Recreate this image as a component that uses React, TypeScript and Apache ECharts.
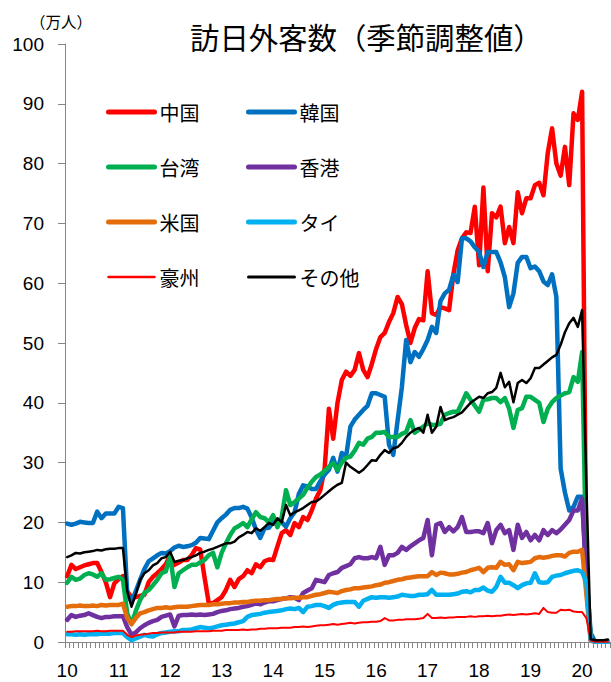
import React, { useEffect, useRef } from "react";
import * as echarts from "echarts";

const yearLabels = ["10", "11", "12", "13", "14", "15", "16", "17", "18", "19", "20"];
const monthsShown = 127; // Jan 2010 .. Jul 2020

const china = [
  11.0, 12.9, 12.2, 12.5, 12.8, 13.0, 13.2, 13.2, 11.7, 10.0, 7.5, 9.8,
  10.5, 11.0, 8.5, 7.4, 7.5, 7.7, 7.9, 10.0, 10.9, 11.5, 12.2, 13.0,
  14.5, 12.9, 13.3, 13.7, 13.7, 14.5, 15.7, 15.5, 10.9, 6.5, 6.5, 7.0,
  7.5, 8.7, 10.4, 9.2, 10.5, 11.0, 12.0, 11.5, 13.0, 12.5, 13.5, 13.8,
  13.7, 16.0, 18.2, 18.7, 17.9, 19.9, 19.2, 20.9, 20.4, 22.0, 24.0, 25.4,
  29.0, 39.0, 34.0, 40.0, 43.8, 45.2, 44.5, 45.5, 48.3, 45.5, 44.3, 46.5,
  49.0, 51.0, 51.7, 53.5, 55.0, 57.7, 56.5, 53.0, 50.0, 52.5, 54.0, 53.8,
  62.0, 55.0, 54.7, 56.0, 55.8, 55.5, 61.5, 65.5, 67.5, 68.5, 68.4, 72.8,
  63.0, 76.0, 62.0, 71.7, 71.0, 72.8, 66.7, 69.4, 66.7, 75.2, 71.7, 74.2,
  74.2, 76.4, 76.8, 74.7, 81.8, 85.9, 80.0, 78.0, 82.8, 76.4, 88.4, 87.3,
  92.0, 9.0, 1.0, 0.1, 0.1, 0.1, 0.1,
];

const korea = [
  19.8, 19.6, 19.8, 20.1, 20.0, 19.9, 19.9, 21.8, 20.7, 21.5, 21.5, 21.5,
  22.6, 22.4, 8.0, 6.7, 8.5, 10.4, 12.2, 13.5, 14.0, 14.5, 14.9, 14.8,
  15.2, 15.8, 16.1, 15.9, 16.0, 16.2, 16.6, 17.4, 17.3, 17.2, 18.6, 20.0,
  20.7, 21.3, 22.1, 22.4, 22.4, 22.6, 22.3, 20.8, 18.8, 17.4, 19.0, 19.1,
  20.0, 20.3, 20.0, 19.3, 20.7, 21.7, 24.8, 26.2, 26.0, 25.6, 25.6, 26.9,
  28.0, 28.8, 30.8, 28.5, 31.6, 31.0, 36.0, 37.2, 38.0, 38.8, 39.5, 41.6,
  41.6, 41.3, 41.0, 33.0, 31.3, 37.0, 42.6, 50.5, 46.8, 48.5, 47.7, 49.0,
  50.5, 52.7, 51.7, 57.0, 58.3, 58.9, 61.4, 60.2, 67.5, 67.5, 67.0, 66.0,
  65.2, 62.7, 65.2, 65.2, 65.2, 63.5, 61.0, 56.0, 58.3, 63.4, 64.4, 64.4,
  62.5, 62.8, 62.0, 60.3, 59.7, 61.5, 57.7, 29.0, 25.0, 22.0, 22.6, 24.3,
  24.3, 11.0, 1.5, 0.1, 0.1, 0.1, 0.1,
];

const taiwan = [
  9.9, 10.9, 10.4, 10.6, 11.2, 11.5, 11.3, 10.9, 11.5, 10.4, 10.5, 10.7,
  10.9, 10.4, 4.8, 3.0, 5.2, 7.0, 8.2, 8.7, 9.5, 10.4, 11.5, 11.8,
  14.5, 9.2, 11.5, 12.0, 12.5, 12.9, 12.9, 13.3, 13.7, 14.5, 14.9, 12.5,
  14.9, 16.5, 17.9, 19.0, 19.4, 19.9, 19.2, 20.5, 21.7, 20.9, 20.7, 20.0,
  21.2, 19.2, 20.9, 25.4, 22.9, 23.4, 24.0, 24.6, 25.8, 26.8, 27.6, 28.0,
  28.6, 29.3, 29.9, 28.8, 30.0, 30.8, 31.0, 32.0, 33.3, 33.0, 34.0, 34.3,
  35.0, 35.0, 35.1, 34.3, 34.3, 34.3, 34.8, 35.1, 37.1, 35.0, 35.5, 36.0,
  36.6, 36.3, 36.3, 36.5, 38.0, 38.3, 38.5, 38.5, 40.0, 41.6, 40.5, 39.5,
  38.5, 40.5, 40.6, 40.8, 40.8, 40.1, 40.8, 39.0, 35.8, 38.8, 39.1, 41.0,
  41.0, 40.5, 40.0, 36.8, 39.0, 40.1, 40.8, 41.2, 41.6, 41.8, 44.3, 43.5,
  48.5, 12.0, 0.4, 0.05, 0.05, 0.05, 0.05,
];

const hongkong = [
  3.7, 4.5, 4.2, 4.4, 4.5, 4.8, 4.5, 4.2, 4.0, 4.2, 4.2, 4.3,
  4.3, 4.3, 2.5, 1.2, 1.6, 2.3, 2.8, 3.2, 3.5, 3.7, 4.2, 4.4,
  4.6, 2.6, 4.4, 4.5, 4.5, 4.6, 4.5, 4.6, 4.5, 4.6, 4.7, 5.0,
  5.2, 5.3, 5.5, 5.6, 5.7, 5.9, 6.0, 6.2, 6.5, 6.3, 6.6, 6.8,
  6.8, 7.0, 7.2, 7.3, 7.5, 7.4, 7.0, 8.2, 8.6, 9.0, 10.4, 10.2,
  10.0, 11.2, 11.5, 11.7, 12.4, 12.7, 13.0, 14.0, 14.2, 14.0, 14.0, 14.2,
  14.0, 15.9, 12.9, 14.5, 14.5, 14.9, 15.9, 15.4, 16.0, 16.5, 17.0, 17.4,
  20.4, 14.5, 19.6, 19.9, 18.4, 19.2, 18.5, 19.2, 20.9, 18.4, 18.4, 18.5,
  18.5, 18.2, 19.9, 16.5, 18.7, 19.6, 18.2, 18.7, 15.4, 19.6, 17.4, 18.4,
  17.0, 17.9, 17.0, 18.7, 17.9, 18.7, 18.2, 18.8, 19.6, 20.4, 22.0, 22.0,
  24.0, 10.0, 0.3, 0.05, 0.05, 0.05, 0.05,
];

const usa = [
  5.9, 6.0, 6.0, 6.1, 6.0, 6.0, 6.1, 6.0, 6.2, 6.1, 6.2, 6.2,
  6.2, 6.4, 4.0, 3.0, 4.0, 4.8, 5.0, 5.3, 5.5, 5.7, 5.7, 5.8,
  5.7, 5.8, 5.9, 5.9, 5.9, 6.0, 6.1, 6.2, 6.2, 6.2, 6.3, 6.3,
  6.4, 6.5, 6.5, 6.6, 6.6, 6.7, 6.7, 6.8, 6.9, 6.9, 7.0, 7.0,
  7.1, 7.2, 7.2, 7.3, 7.3, 7.4, 7.4, 7.5, 7.5, 7.7, 7.9, 8.0,
  8.2, 8.4, 8.3, 8.2, 8.5, 8.7, 8.8, 9.0, 9.0, 9.1, 9.2, 9.3,
  9.5, 9.6, 9.9, 10.0, 10.2, 10.4, 10.5, 10.7, 10.8, 10.9, 11.0, 11.0,
  11.0, 11.7, 11.2, 11.6, 11.5, 11.3, 11.3, 11.4, 11.6, 11.7, 12.0, 12.2,
  12.4, 11.7, 12.4, 12.5, 12.4, 13.4, 12.9, 13.0, 12.0, 13.4, 13.2, 13.3,
  13.4, 14.0, 14.2, 14.1, 14.2, 14.4, 14.5, 14.5, 14.3, 14.9, 15.1, 15.1,
  15.4, 8.0, 0.2, 0.05, 0.05, 0.05, 0.05,
];

const thailand = [
  1.3, 1.3, 1.2, 1.3, 1.2, 1.3, 1.3, 1.3, 1.4, 1.4, 1.4, 1.5,
  1.5, 1.5, 0.8, 0.3, 0.6, 0.9, 1.2, 1.0, 0.9, 1.3, 1.5, 1.6,
  1.7, 1.8, 1.8, 2.0, 2.0, 2.1, 2.3, 2.5, 2.4, 2.3, 2.4, 2.6,
  2.8, 2.9, 3.0, 3.1, 3.3, 3.5, 4.2, 4.5, 4.6, 4.7, 4.9, 5.0,
  5.1, 5.2, 5.3, 5.5, 5.6, 5.5, 5.7, 5.0, 5.9, 6.0, 6.2, 6.2,
  6.0, 5.7, 6.2, 6.5, 6.6, 6.7, 6.7, 6.7, 5.9, 6.9, 7.2, 7.5,
  7.4, 7.5, 7.5, 7.4, 7.5, 7.6, 7.9, 7.8, 7.7, 7.7, 7.9, 7.9,
  8.0, 8.7, 7.9, 7.9, 7.9, 7.9, 8.0, 8.1, 8.4, 8.5, 8.3, 8.7,
  8.7, 9.1, 8.6, 8.4, 9.2, 10.9, 9.9, 9.9, 9.5, 9.0, 9.5, 9.8,
  9.9, 11.5, 10.0, 9.9, 10.0, 10.9, 11.1, 11.2, 11.5, 11.7, 11.9, 12.0,
  11.7, 10.0, 0.3, 0.05, 0.05, 0.05, 0.05,
];

const australia = [
  1.7, 1.7, 1.8, 1.8, 1.8, 1.8, 1.8, 1.9, 1.8, 1.8, 1.9, 1.9,
  1.9, 1.9, 1.2, 0.8, 1.1, 1.2, 1.3, 1.4, 1.5, 1.5, 1.6, 1.6,
  1.6, 1.6, 1.7, 1.7, 1.7, 1.7, 1.8, 1.8, 1.8, 1.8, 1.9, 1.9,
  1.9, 2.0, 2.0, 2.0, 2.0, 2.1, 2.0, 2.1, 2.1, 2.2, 2.2, 2.3,
  2.3, 2.3, 2.4, 2.4, 2.4, 2.5, 2.5, 2.6, 2.5, 2.6, 2.7, 2.8,
  2.8, 2.9, 3.0, 2.9, 3.0, 3.1, 3.2, 3.1, 3.2, 3.3, 3.3, 3.4,
  3.4, 3.5, 4.0, 3.6, 3.6, 3.7, 3.7, 3.8, 3.8, 3.8, 3.9, 4.0,
  4.7, 4.0, 4.0, 4.1, 4.0, 4.1, 4.1, 4.2, 4.2, 4.2, 4.3, 4.2,
  4.3, 4.3, 4.4, 4.3, 4.4, 4.4, 4.5, 4.6, 4.5, 4.6, 4.7, 4.6,
  4.7, 4.8, 4.7, 5.7, 5.0, 4.9, 4.9, 5.4, 5.3, 5.4, 5.1, 5.0,
  5.0, 4.0, 0.3, 0.05, 0.05, 0.05, 0.05,
];

const others = [
  14.2, 14.5, 14.9, 14.8, 15.0, 15.1, 15.2, 15.4, 15.3, 15.5, 15.6, 15.6,
  15.7, 15.7, 8.5, 5.9, 8.0, 10.4, 11.5, 12.0, 12.8, 13.2, 14.0, 14.2,
  15.1, 13.4, 13.6, 13.7, 14.0, 14.2, 14.5, 14.9, 15.1, 15.4, 15.6, 15.9,
  16.2, 16.5, 16.5, 16.8, 17.5, 17.9, 18.4, 18.2, 19.0, 18.6, 19.2, 19.9,
  19.6, 20.7, 20.0, 22.9, 21.2, 21.7, 22.0, 22.4, 22.9, 23.4, 23.5, 24.0,
  24.6, 25.2, 25.8, 26.3, 26.6, 30.0, 29.3, 28.8, 28.3, 28.8, 29.6, 30.4,
  30.3, 31.3, 32.1, 31.6, 32.4, 32.6, 33.3, 34.3, 35.0, 35.5, 35.8, 35.0,
  38.0, 35.0, 36.0, 39.3, 37.1, 37.4, 37.6, 38.0, 38.4, 39.2, 40.0, 40.5,
  41.0, 40.8, 41.6, 41.8, 42.5, 45.0, 42.6, 43.5, 40.1, 43.3, 43.8, 43.3,
  44.1, 45.8, 45.8, 46.4, 47.0, 47.6, 48.0, 49.7, 51.8, 53.3, 54.2, 52.7,
  55.5, 26.0, 0.5, 0.3, 0.3, 0.3, 0.4,
];

const seriesDefs = [
  { name: "中国", data: china, color: "#FF0000", width: 4.5, legendWidth: 5 },
  { name: "韓国", data: korea, color: "#0070C0", width: 4.5, legendWidth: 5 },
  { name: "台湾", data: taiwan, color: "#00B050", width: 4.5, legendWidth: 5 },
  { name: "香港", data: hongkong, color: "#7030A0", width: 4.5, legendWidth: 5 },
  { name: "米国", data: usa, color: "#E46C0A", width: 4.5, legendWidth: 5 },
  { name: "タイ", data: thailand, color: "#00B0F0", width: 4.5, legendWidth: 5 },
  { name: "豪州", data: australia, color: "#FF0000", width: 2, legendWidth: 2.5 },
  { name: "その他", data: others, color: "#000000", width: 2.5, legendWidth: 3 },
];

const leftColumn = ["中国", "台湾", "米国", "豪州"];
const rightColumn = ["韓国", "香港", "タイ", "その他"];

const JP = "'Noto Sans CJK JP', 'Noto Sans', sans-serif";
const NUM = "'Liberation Sans', Arial, sans-serif";

export default function App() {
  const ref = useRef<HTMLDivElement>(null);

  useEffect(() => {
    document.body.style.margin = "0";
    if (!ref.current) return;
    const chart = echarts.init(ref.current, undefined, { renderer: "svg" });

    const categories: string[] = [];
    yearLabels.forEach((y) => {
      for (let m = 1; m <= 12; m++) categories.push(`${y}/${m}`);
    });
    const cats = categories.slice(0, monthsShown);

    const legendData = (names: string[]) =>
      names.map((n) => {
        const d = seriesDefs.find((s) => s.name === n)!;
        return {
          name: n,
          lineStyle: { width: d.legendWidth, cap: "round" },
          itemStyle: { opacity: 0 },
        };
      });

    const legendBase = {
      orient: "vertical",
      top: 102,
      padding: 0,
      itemWidth: 46,
      itemHeight: 20,
      itemGap: 35,
      selectedMode: false,
      itemStyle: { opacity: 0 },
      textStyle: { fontSize: 20, lineHeight: 20, color: "#000", fontFamily: JP },
    };

    const option: any = {
      animation: false,
      title: {
        text: "訪日外客数（季節調整値）",
        left: 185,
        top: 16,
        textStyle: { fontSize: 29.4, fontWeight: "normal", color: "#000", fontFamily: JP },
      },
      graphic: [
        {
          type: "text",
          x: 61,
          y: 21,
          style: {
            text: "（万人）",
            fontSize: 15.5,
            fill: "#000",
            textAlign: "center",
            textVerticalAlign: "middle",
            fontFamily: JP,
          },
        },
      ],
      legend: [
        { ...legendBase, left: 106, data: legendData(leftColumn) },
        { ...legendBase, left: 246, data: legendData(rightColumn) },
      ],
      grid: { left: 65, right: 1, top: 44, bottom: 40, containLabel: false, outerBoundsMode: "none" },
      xAxis: {
        type: "category",
        data: cats,
        boundaryGap: true,
        axisLine: { lineStyle: { color: "#868686", width: 1 } },
        axisTick: { show: true, interval: 0, length: 6, lineStyle: { color: "#868686" } },
        axisLabel: {
          interval: (i: number) => i % 12 === 0,
          formatter: (v: string) => v.split("/")[0],
          margin: 19,
          fontSize: 19,
          color: "#000",
          fontFamily: NUM,
        },
        splitLine: { show: false },
      },
      yAxis: {
        type: "value",
        min: 0,
        max: 100,
        interval: 10,
        axisLine: { show: true, lineStyle: { color: "#868686", width: 1 } },
        axisTick: { show: true, length: 7, lineStyle: { color: "#868686" } },
        axisLabel: { margin: 21, fontSize: 19, color: "#000", fontFamily: NUM },
        splitLine: { show: false },
      },
      series: seriesDefs.map((s) => ({
        name: s.name,
        type: "line",
        data: s.data,
        symbol: "none",
        showSymbol: false,
        color: s.color,
        lineStyle: { color: s.color, width: s.width, join: "round", cap: "round" },
        emphasis: { disabled: true },
      })),
    };

    chart.setOption(option);
    return () => chart.dispose();
  }, []);

  return <div ref={ref} style={{ width: 611, height: 682 }} />;
}
